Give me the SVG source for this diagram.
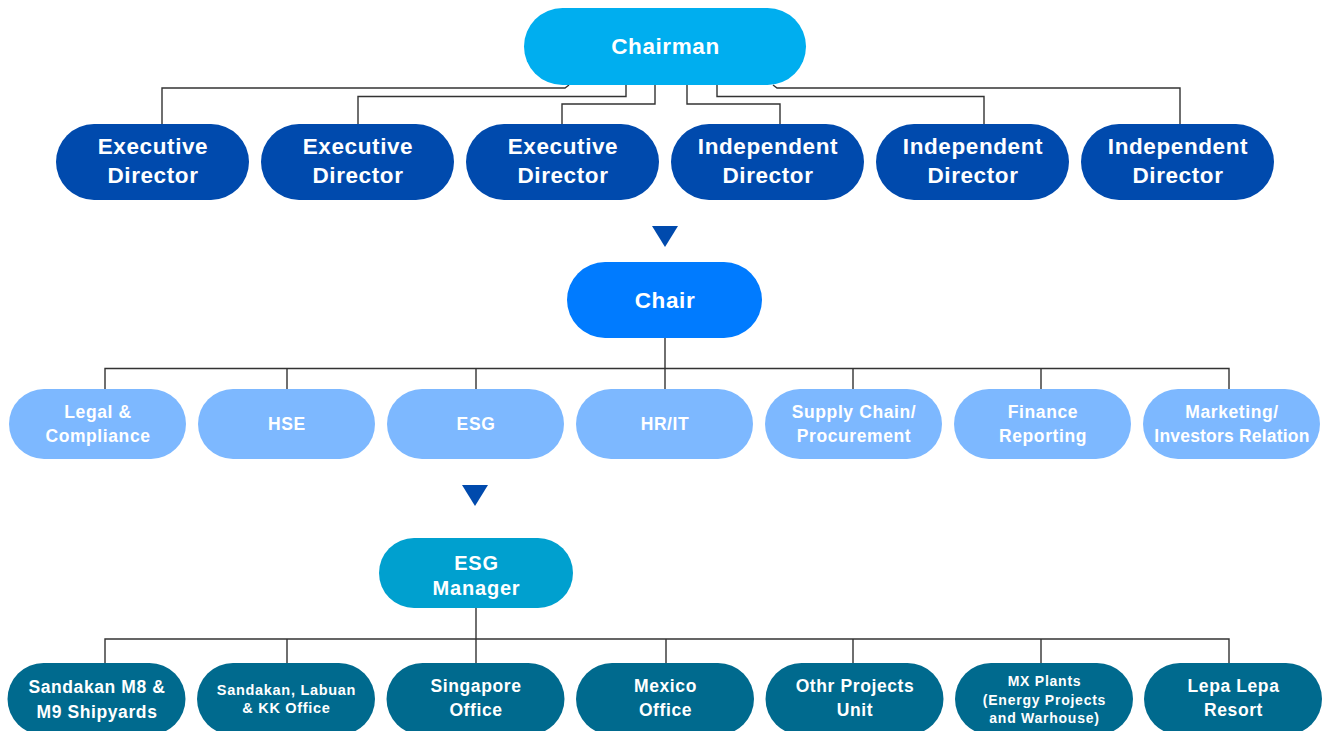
<svg xmlns="http://www.w3.org/2000/svg" width="1325" height="731" viewBox="0 0 1325 731">
  <style>
    .lbl { font-family: "Liberation Sans", Arial, Helvetica, sans-serif; font-weight: bold; fill: #ffffff; text-anchor: middle; }
    .lg { font-size: 22.5px; letter-spacing: 0.6px; }
    .md { font-size: 17.5px; letter-spacing: 0.6px; }
    .sm { font-size: 14.5px; letter-spacing: 0.7px; }
    .xs { font-size: 14px; letter-spacing: 0.75px; }
    .mg { font-size: 20px; letter-spacing: 0.8px; }
    .chairman { fill: #00AEEF; }
    .director { fill: #004AAD; }
    .chair { fill: #007BFF; }
    .dept { fill: #7DB8FF; }
    .manager { fill: #00A0CF; }
    .site { fill: #006A8E; }
    .conn { fill: none; stroke: #333333; stroke-width: 1.4; }
    .tri { fill: #004AAD; }
  </style>

  <rect width="1325" height="731" fill="#ffffff"/>

  <!-- connectors -->
  <g id="connectors">
    <!-- chairman to directors -->
    <path class="conn" d="M569,85 L565,88 H162 V124"/>
    <path class="conn" d="M626,85 V96.5 H358 V124"/>
    <path class="conn" d="M655,85 V104 H562 V124"/>
    <path class="conn" d="M687,85 V104 H780 V124"/>
    <path class="conn" d="M717,85 V96.5 H984 V124"/>
    <path class="conn" d="M773,85 L777,88 H1180 V124"/>
    <!-- chair to departments -->
    <path class="conn" d="M665,338 V389"/>
    <path class="conn" d="M105,389 V368.5 H1229 V389"/>
    <path class="conn" d="M287,368.5 V389 M476,368.5 V389 M853,368.5 V389 M1041,368.5 V389"/>
    <!-- ESG manager to sites -->
    <path class="conn" d="M476,608 V663"/>
    <path class="conn" d="M105,663 V639 H1229 V663"/>
    <path class="conn" d="M287,639 V663 M666,639 V663 M853,639 V663 M1041,639 V663"/>
    <!-- flow markers -->
    <polygon class="tri" points="652,226 678,226 665,247"/>
    <polygon class="tri" points="462,485 488,485 475,506"/>
  </g>

  <!-- board -->
  <g id="chairman">
    <rect class="chairman" x="524" y="8" width="282" height="77" rx="38.5"/>
    <text class="lbl lg" x="665.5" y="54">Chairman</text>
  </g>
  <g id="exec-director-1">
    <rect class="director" x="56" y="124" width="193" height="76" rx="38"/>
    <text class="lbl lg" x="153" y="154">Executive</text>
    <text class="lbl lg" x="153" y="183">Director</text>
  </g>
  <g id="exec-director-2">
    <rect class="director" x="261" y="124" width="193" height="76" rx="38"/>
    <text class="lbl lg" x="358" y="154">Executive</text>
    <text class="lbl lg" x="358" y="183">Director</text>
  </g>
  <g id="exec-director-3">
    <rect class="director" x="466" y="124" width="193" height="76" rx="38"/>
    <text class="lbl lg" x="563" y="154">Executive</text>
    <text class="lbl lg" x="563" y="183">Director</text>
  </g>
  <g id="indep-director-1">
    <rect class="director" x="671" y="124" width="193" height="76" rx="38"/>
    <text class="lbl lg" x="768" y="154">Independent</text>
    <text class="lbl lg" x="768" y="183">Director</text>
  </g>
  <g id="indep-director-2">
    <rect class="director" x="876" y="124" width="193" height="76" rx="38"/>
    <text class="lbl lg" x="973" y="154">Independent</text>
    <text class="lbl lg" x="973" y="183">Director</text>
  </g>
  <g id="indep-director-3">
    <rect class="director" x="1081" y="124" width="193" height="76" rx="38"/>
    <text class="lbl lg" x="1178" y="154">Independent</text>
    <text class="lbl lg" x="1178" y="183">Director</text>
  </g>

  <!-- committee chair -->
  <g id="chair">
    <rect class="chair" x="567" y="262" width="195" height="76" rx="38"/>
    <text class="lbl lg" x="665" y="308">Chair</text>
  </g>

  <!-- departments -->
  <g id="legal">
    <rect class="dept" x="9" y="389" width="177" height="70" rx="35"/>
    <text class="lbl md" x="98" y="418">Legal &amp;</text>
    <text class="lbl md" x="98" y="442">Compliance</text>
  </g>
  <g id="hse">
    <rect class="dept" x="198" y="389" width="177" height="70" rx="35"/>
    <text class="lbl md" x="287" y="430">HSE</text>
  </g>
  <g id="esg">
    <rect class="dept" x="387" y="389" width="177" height="70" rx="35"/>
    <text class="lbl md" x="476" y="430">ESG</text>
  </g>
  <g id="hr-it">
    <rect class="dept" x="576" y="389" width="177" height="70" rx="35"/>
    <text class="lbl md" x="665" y="430">HR/IT</text>
  </g>
  <g id="supply-chain">
    <rect class="dept" x="765" y="389" width="177" height="70" rx="35"/>
    <text class="lbl md" x="854" y="418">Supply Chain/</text>
    <text class="lbl md" x="854" y="442">Procurement</text>
  </g>
  <g id="finance">
    <rect class="dept" x="954" y="389" width="177" height="70" rx="35"/>
    <text class="lbl md" x="1043" y="418">Finance</text>
    <text class="lbl md" x="1043" y="442">Reporting</text>
  </g>
  <g id="marketing">
    <rect class="dept" x="1143" y="389" width="177" height="70" rx="35"/>
    <text class="lbl md" x="1232" y="418">Marketing/</text>
    <text class="lbl md" x="1232" y="442" style="letter-spacing:0.2px">Investors Relation</text>
  </g>

  <!-- ESG manager -->
  <g id="esg-manager">
    <rect class="manager" x="379" y="538" width="194" height="70" rx="35"/>
    <text class="lbl mg" x="476.5" y="570">ESG</text>
    <text class="lbl mg" x="476.5" y="595">Manager</text>
  </g>

  <!-- sites -->
  <g id="sandakan-shipyards">
    <rect class="site" x="7.5" y="663" width="178" height="72" rx="36"/>
    <text class="lbl md" x="97" y="693">Sandakan M8 &amp;</text>
    <text class="lbl md" x="97" y="718">M9 Shipyards</text>
  </g>
  <g id="sandakan-offices">
    <rect class="site" x="197" y="663" width="178" height="72" rx="36"/>
    <text class="lbl sm" x="286.5" y="695">Sandakan, Labuan</text>
    <text class="lbl sm" x="286.5" y="713">&amp; KK Office</text>
  </g>
  <g id="singapore">
    <rect class="site" x="386.5" y="663" width="178" height="72" rx="36"/>
    <text class="lbl md" x="476" y="692">Singapore</text>
    <text class="lbl md" x="476" y="716">Office</text>
  </g>
  <g id="mexico">
    <rect class="site" x="576" y="663" width="178" height="72" rx="36"/>
    <text class="lbl md" x="665.5" y="692">Mexico</text>
    <text class="lbl md" x="665.5" y="716">Office</text>
  </g>
  <g id="other-projects">
    <rect class="site" x="765.5" y="663" width="178" height="72" rx="36"/>
    <text class="lbl md" x="855" y="692">Othr Projects</text>
    <text class="lbl md" x="855" y="716">Unit</text>
  </g>
  <g id="mx-plants">
    <rect class="site" x="955" y="663" width="178" height="72" rx="36"/>
    <text class="lbl xs" x="1044.5" y="686">MX Plants</text>
    <text class="lbl xs" x="1044.5" y="705">(Energy Projects</text>
    <text class="lbl xs" x="1044.5" y="723">and Warhouse)</text>
  </g>
  <g id="lepa-lepa">
    <rect class="site" x="1144" y="663" width="178" height="72" rx="36"/>
    <text class="lbl md" x="1233.5" y="692">Lepa Lepa</text>
    <text class="lbl md" x="1233.5" y="716">Resort</text>
  </g>
</svg>
